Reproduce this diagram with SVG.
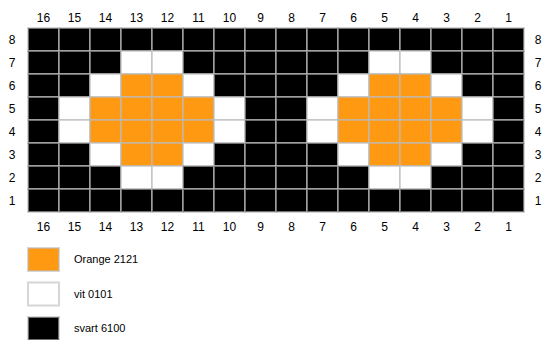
<svg xmlns="http://www.w3.org/2000/svg" width="542" height="340" viewBox="0 0 542 340">
<style>
text{font-family:"Liberation Sans",Arial,sans-serif;fill:#000}
.n{font-size:12px;text-anchor:middle}
.l{font-size:11px}
rect{stroke:#bbb;stroke-opacity:0.6;stroke-width:2}
.k{fill:#000}.w{fill:#fff}.o{fill:#FF9912}
</style>
<rect width="542" height="340" fill="#fff" style="stroke:none"/>
<g id="grid">
<g id="row8"><rect class="k" x="28" y="28" width="31" height="23"/><rect class="k" x="59" y="28" width="31" height="23"/><rect class="k" x="90" y="28" width="31" height="23"/><rect class="k" x="121" y="28" width="31" height="23"/><rect class="k" x="152" y="28" width="31" height="23"/><rect class="k" x="183" y="28" width="31" height="23"/><rect class="k" x="214" y="28" width="31" height="23"/><rect class="k" x="245" y="28" width="31" height="23"/><rect class="k" x="276" y="28" width="31" height="23"/><rect class="k" x="307" y="28" width="31" height="23"/><rect class="k" x="338" y="28" width="31" height="23"/><rect class="k" x="369" y="28" width="31" height="23"/><rect class="k" x="400" y="28" width="31" height="23"/><rect class="k" x="431" y="28" width="31" height="23"/><rect class="k" x="462" y="28" width="31" height="23"/><rect class="k" x="493" y="28" width="31" height="23"/></g>
<g id="row7"><rect class="k" x="28" y="51" width="31" height="23"/><rect class="k" x="59" y="51" width="31" height="23"/><rect class="k" x="90" y="51" width="31" height="23"/><rect class="w" x="121" y="51" width="31" height="23"/><rect class="w" x="152" y="51" width="31" height="23"/><rect class="k" x="183" y="51" width="31" height="23"/><rect class="k" x="214" y="51" width="31" height="23"/><rect class="k" x="245" y="51" width="31" height="23"/><rect class="k" x="276" y="51" width="31" height="23"/><rect class="k" x="307" y="51" width="31" height="23"/><rect class="k" x="338" y="51" width="31" height="23"/><rect class="w" x="369" y="51" width="31" height="23"/><rect class="w" x="400" y="51" width="31" height="23"/><rect class="k" x="431" y="51" width="31" height="23"/><rect class="k" x="462" y="51" width="31" height="23"/><rect class="k" x="493" y="51" width="31" height="23"/></g>
<g id="row6"><rect class="k" x="28" y="74" width="31" height="23"/><rect class="k" x="59" y="74" width="31" height="23"/><rect class="w" x="90" y="74" width="31" height="23"/><rect class="o" x="121" y="74" width="31" height="23"/><rect class="o" x="152" y="74" width="31" height="23"/><rect class="w" x="183" y="74" width="31" height="23"/><rect class="k" x="214" y="74" width="31" height="23"/><rect class="k" x="245" y="74" width="31" height="23"/><rect class="k" x="276" y="74" width="31" height="23"/><rect class="k" x="307" y="74" width="31" height="23"/><rect class="w" x="338" y="74" width="31" height="23"/><rect class="o" x="369" y="74" width="31" height="23"/><rect class="o" x="400" y="74" width="31" height="23"/><rect class="w" x="431" y="74" width="31" height="23"/><rect class="k" x="462" y="74" width="31" height="23"/><rect class="k" x="493" y="74" width="31" height="23"/></g>
<g id="row5"><rect class="k" x="28" y="97" width="31" height="23"/><rect class="w" x="59" y="97" width="31" height="23"/><rect class="o" x="90" y="97" width="31" height="23"/><rect class="o" x="121" y="97" width="31" height="23"/><rect class="o" x="152" y="97" width="31" height="23"/><rect class="o" x="183" y="97" width="31" height="23"/><rect class="w" x="214" y="97" width="31" height="23"/><rect class="k" x="245" y="97" width="31" height="23"/><rect class="k" x="276" y="97" width="31" height="23"/><rect class="w" x="307" y="97" width="31" height="23"/><rect class="o" x="338" y="97" width="31" height="23"/><rect class="o" x="369" y="97" width="31" height="23"/><rect class="o" x="400" y="97" width="31" height="23"/><rect class="o" x="431" y="97" width="31" height="23"/><rect class="w" x="462" y="97" width="31" height="23"/><rect class="k" x="493" y="97" width="31" height="23"/></g>
<g id="row4"><rect class="k" x="28" y="120" width="31" height="23"/><rect class="w" x="59" y="120" width="31" height="23"/><rect class="o" x="90" y="120" width="31" height="23"/><rect class="o" x="121" y="120" width="31" height="23"/><rect class="o" x="152" y="120" width="31" height="23"/><rect class="o" x="183" y="120" width="31" height="23"/><rect class="w" x="214" y="120" width="31" height="23"/><rect class="k" x="245" y="120" width="31" height="23"/><rect class="k" x="276" y="120" width="31" height="23"/><rect class="w" x="307" y="120" width="31" height="23"/><rect class="o" x="338" y="120" width="31" height="23"/><rect class="o" x="369" y="120" width="31" height="23"/><rect class="o" x="400" y="120" width="31" height="23"/><rect class="o" x="431" y="120" width="31" height="23"/><rect class="w" x="462" y="120" width="31" height="23"/><rect class="k" x="493" y="120" width="31" height="23"/></g>
<g id="row3"><rect class="k" x="28" y="143" width="31" height="23"/><rect class="k" x="59" y="143" width="31" height="23"/><rect class="w" x="90" y="143" width="31" height="23"/><rect class="o" x="121" y="143" width="31" height="23"/><rect class="o" x="152" y="143" width="31" height="23"/><rect class="w" x="183" y="143" width="31" height="23"/><rect class="k" x="214" y="143" width="31" height="23"/><rect class="k" x="245" y="143" width="31" height="23"/><rect class="k" x="276" y="143" width="31" height="23"/><rect class="k" x="307" y="143" width="31" height="23"/><rect class="w" x="338" y="143" width="31" height="23"/><rect class="o" x="369" y="143" width="31" height="23"/><rect class="o" x="400" y="143" width="31" height="23"/><rect class="w" x="431" y="143" width="31" height="23"/><rect class="k" x="462" y="143" width="31" height="23"/><rect class="k" x="493" y="143" width="31" height="23"/></g>
<g id="row2"><rect class="k" x="28" y="166" width="31" height="23"/><rect class="k" x="59" y="166" width="31" height="23"/><rect class="k" x="90" y="166" width="31" height="23"/><rect class="w" x="121" y="166" width="31" height="23"/><rect class="w" x="152" y="166" width="31" height="23"/><rect class="k" x="183" y="166" width="31" height="23"/><rect class="k" x="214" y="166" width="31" height="23"/><rect class="k" x="245" y="166" width="31" height="23"/><rect class="k" x="276" y="166" width="31" height="23"/><rect class="k" x="307" y="166" width="31" height="23"/><rect class="k" x="338" y="166" width="31" height="23"/><rect class="w" x="369" y="166" width="31" height="23"/><rect class="w" x="400" y="166" width="31" height="23"/><rect class="k" x="431" y="166" width="31" height="23"/><rect class="k" x="462" y="166" width="31" height="23"/><rect class="k" x="493" y="166" width="31" height="23"/></g>
<g id="row1"><rect class="k" x="28" y="189" width="31" height="23"/><rect class="k" x="59" y="189" width="31" height="23"/><rect class="k" x="90" y="189" width="31" height="23"/><rect class="k" x="121" y="189" width="31" height="23"/><rect class="k" x="152" y="189" width="31" height="23"/><rect class="k" x="183" y="189" width="31" height="23"/><rect class="k" x="214" y="189" width="31" height="23"/><rect class="k" x="245" y="189" width="31" height="23"/><rect class="k" x="276" y="189" width="31" height="23"/><rect class="k" x="307" y="189" width="31" height="23"/><rect class="k" x="338" y="189" width="31" height="23"/><rect class="k" x="369" y="189" width="31" height="23"/><rect class="k" x="400" y="189" width="31" height="23"/><rect class="k" x="431" y="189" width="31" height="23"/><rect class="k" x="462" y="189" width="31" height="23"/><rect class="k" x="493" y="189" width="31" height="23"/></g>
</g>
<g id="col-labels-top" class="n">
<text class="n" x="43.5" y="22">16</text><text class="n" x="74.5" y="22">15</text><text class="n" x="105.5" y="22">14</text><text class="n" x="136.5" y="22">13</text><text class="n" x="167.5" y="22">12</text><text class="n" x="198.5" y="22">11</text><text class="n" x="229.5" y="22">10</text><text class="n" x="260.5" y="22">9</text><text class="n" x="291.5" y="22">8</text><text class="n" x="322.5" y="22">7</text><text class="n" x="353.5" y="22">6</text><text class="n" x="384.5" y="22">5</text><text class="n" x="415.5" y="22">4</text><text class="n" x="446.5" y="22">3</text><text class="n" x="477.5" y="22">2</text><text class="n" x="508.5" y="22">1</text>
</g>
<g id="col-labels-bottom">
<text class="n" x="43.5" y="231">16</text><text class="n" x="74.5" y="231">15</text><text class="n" x="105.5" y="231">14</text><text class="n" x="136.5" y="231">13</text><text class="n" x="167.5" y="231">12</text><text class="n" x="198.5" y="231">11</text><text class="n" x="229.5" y="231">10</text><text class="n" x="260.5" y="231">9</text><text class="n" x="291.5" y="231">8</text><text class="n" x="322.5" y="231">7</text><text class="n" x="353.5" y="231">6</text><text class="n" x="384.5" y="231">5</text><text class="n" x="415.5" y="231">4</text><text class="n" x="446.5" y="231">3</text><text class="n" x="477.5" y="231">2</text><text class="n" x="508.5" y="231">1</text>
</g>
<g id="row-labels-left">
<text class="n" x="12" y="44">8</text><text class="n" x="12" y="67">7</text><text class="n" x="12" y="90">6</text><text class="n" x="12" y="113">5</text><text class="n" x="12" y="136">4</text><text class="n" x="12" y="159">3</text><text class="n" x="12" y="182">2</text><text class="n" x="12" y="205">1</text>
</g>
<g id="row-labels-right">
<text class="n" x="538" y="44">8</text><text class="n" x="538" y="67">7</text><text class="n" x="538" y="90">6</text><text class="n" x="538" y="113">5</text><text class="n" x="538" y="136">4</text><text class="n" x="538" y="159">3</text><text class="n" x="538" y="182">2</text><text class="n" x="538" y="205">1</text>
</g>
<g id="legend-orange"><rect class="o" x="28" y="248" width="31" height="23"/><text class="l" x="74" y="263">Orange 2121</text></g>
<g id="legend-white"><rect class="w" x="28" y="282.5" width="31" height="23"/><text class="l" x="74" y="297.5">vit 0101</text></g>
<g id="legend-black"><rect class="k" x="28" y="317" width="31" height="23"/><text class="l" x="74" y="332">svart 6100</text></g>
</svg>
